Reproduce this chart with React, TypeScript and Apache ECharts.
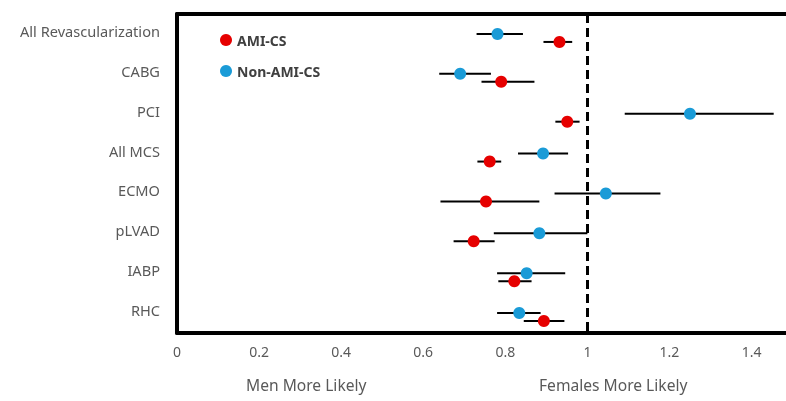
import React, { useEffect, useRef } from "react";
import * as echarts from "echarts";

const categories = ["All Revascularization", "CABG", "PCI", "All MCS", "ECMO", "pLVAD", "IABP", "RHC"];

// Non-AMI-CS (blue): point estimate, lower CI, upper CI
const nonAmiEst = [0.781, 0.69, 1.25, 0.892, 1.045, 0.883, 0.852, 0.834];
const nonAmiLo = [0.73, 0.639, 1.091, 0.831, 0.92, 0.772, 0.78, 0.78];
const nonAmiHi = [0.843, 0.765, 1.454, 0.953, 1.178, 1.0, 0.946, 0.886];

// AMI-CS (red)
const amiEst = [0.932, 0.79, 0.951, 0.762, 0.753, 0.723, 0.822, 0.894];
const amiLo = [0.893, 0.742, 0.922, 0.732, 0.642, 0.674, 0.783, 0.845];
const amiHi = [0.963, 0.871, 0.981, 0.79, 0.883, 0.774, 0.864, 0.944];

const xTicks = { min: 0, max: 1.484, interval: 0.2 };

const RED = "#E60000";
const BLUE = "#1A9BD7";
const FONT = "Noto Sans";

export default function App() {
  const ref = useRef<HTMLDivElement>(null);
  useEffect(() => {
    document.body.style.margin = "0";
    const chart = echarts.init(ref.current!, null, { renderer: "svg" });

    const errSeries = (lo: number[], hi: number[], off: number) => ({
      type: "custom",
      silent: true,
      z: 2,
      encode: { x: [1, 2], y: 0 },
      data: categories.map((_, i) => [i, lo[i], hi[i]]),
      renderItem: (params: any, api: any) => {
        const p1 = api.coord([api.value(1), api.value(0)]);
        const p2 = api.coord([api.value(2), api.value(0)]);
        return {
          type: "line",
          shape: { x1: p1[0], y1: p1[1] + off, x2: p2[0], y2: p2[1] + off },
          style: { stroke: "#000", lineWidth: 2 },
        };
      },
    });

    chart.setOption({
      animation: false,
      textStyle: { fontFamily: FONT },
      grid: { left: 177, right: 0, top: 14, bottom: 68, containLabel: false },
      legend: {
        data: [
          { name: "AMI-CS", icon: "circle" },
          { name: "Non-AMI-CS", icon: "circle" },
        ],
        orient: "vertical",
        left: 215,
        top: 28,
        itemWidth: 12,
        itemHeight: 12,
        itemGap: 17,
        textStyle: { fontFamily: FONT, fontSize: 14, fontWeight: "bold", color: "#404040" },
      },
      xAxis: [
        {
          type: "value",
          min: xTicks.min,
          max: xTicks.max,
          interval: xTicks.interval,
          position: "bottom",
          axisLine: { show: true, lineStyle: { color: "#000", width: 4 } },
          axisTick: { show: false },
          splitLine: { show: false },
          axisLabel: { color: "#595959", fontSize: 14, margin: 11, showMaxLabel: false, fontFamily: FONT },
        },
        {
          type: "value",
          min: xTicks.min,
          max: xTicks.max,
          position: "top",
          axisLine: { show: true, lineStyle: { color: "#000", width: 4 } },
          axisTick: { show: false },
          splitLine: { show: false },
          axisLabel: { show: false },
        },
      ],
      yAxis: {
        type: "category",
        data: categories,
        inverse: true,
        axisLine: { show: true, lineStyle: { color: "#000", width: 4 } },
        axisTick: { show: false },
        splitLine: { show: false },
        axisLabel: {
          color: "#595959",
          fontSize: 14.6,
          margin: 17,
          fontFamily: FONT,
          verticalAlign: "bottom",
          lineHeight: 6,
        },
      },
      series: [
        errSeries(nonAmiLo, nonAmiHi, 0),
        errSeries(amiLo, amiHi, 8),
        {
          name: "Non-AMI-CS",
          type: "scatter",
          z: 3,
          symbol: "circle",
          symbolSize: 12,
          itemStyle: { color: BLUE, opacity: 1 },
          data: categories.map((_, i) => [nonAmiEst[i], i]),
          markLine: {
            silent: true,
            symbol: "none",
            label: { show: false },
            lineStyle: { color: "#000", width: 3, type: [9, 5] },
            data: [{ xAxis: 1 }],
          },
        },
        {
          name: "AMI-CS",
          type: "scatter",
          z: 3,
          symbol: "circle",
          symbolSize: 12,
          symbolOffset: [0, 8],
          itemStyle: { color: RED, opacity: 1 },
          data: categories.map((_, i) => [amiEst[i], i]),
        },
      ],
      graphic: [
        {
          type: "text",
          left: 246,
          top: 377,
          style: { text: "Men More Likely", fontSize: 15.6, fill: "#595959", fontFamily: FONT },
        },
        {
          type: "text",
          left: 539,
          top: 377,
          style: { text: "Females More Likely", fontSize: 15.6, fill: "#595959", fontFamily: FONT },
        },
      ],
    });
    return () => chart.dispose();
  }, []);
  return <div ref={ref} style={{ position: "fixed", left: 0, top: 0, width: 786, height: 401 }} />;
}
